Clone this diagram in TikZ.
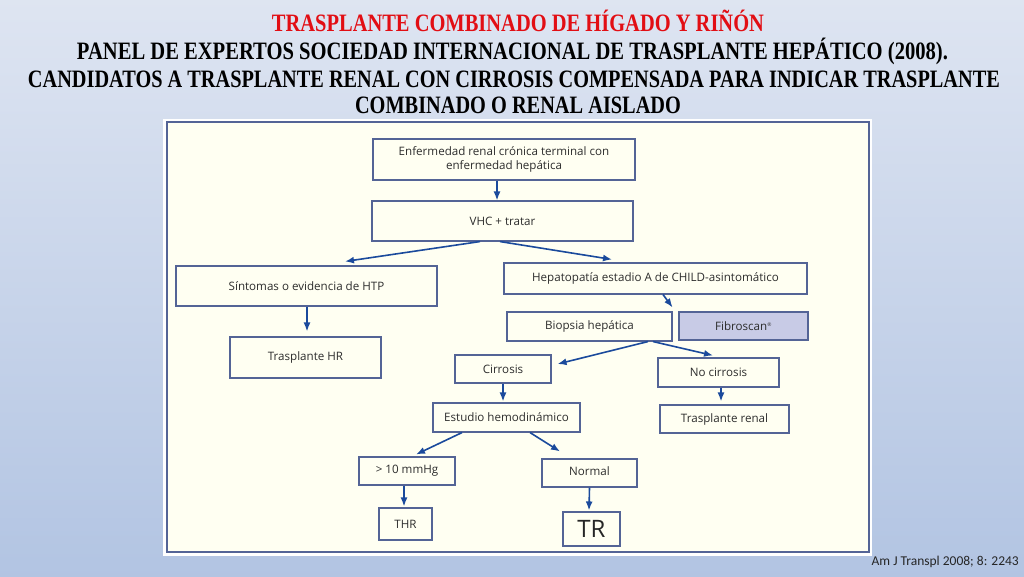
\documentclass[tikz,border=0pt]{standalone}
\usepackage{fontspec}
\setmainfont{Liberation Serif}
\newfontfamily\boxfont{Open Sans}
\newfontfamily\citefont{Carlito}
\usetikzlibrary{arrows.meta}
\definecolor{cream}{RGB}{255,255,242}
\definecolor{boxline}{RGB}{84,100,150}
\definecolor{arrowblue}{RGB}{27,74,156}
\definecolor{boxtext}{RGB}{45,45,45}
\definecolor{titlered}{RGB}{226,14,20}
\definecolor{fibrofill}{RGB}{200,203,230}
\definecolor{bgtop}{RGB}{244,245,249}
\definecolor{bgmid}{RGB}{171,191,224}
\definecolor{bgbot}{RGB}{196,210,234}
\pgfdeclareverticalshading{slidebg}{100bp}{color(0bp)=(bgbot); color(17bp)=(bgmid); color(100bp)=(bgtop)}
\def\titleline#1#2{\resizebox{#1pt}{\height}{#2}}

\begin{document}
\begin{tikzpicture}[x=1pt, y=-1pt,
	box/.style={draw=boxline, line width=1.1pt, fill=cream, text=boxtext, font=\boxfont\fontsize{11.6}{14}\selectfont, inner sep=0pt, align=center},
	arr/.style={draw=arrowblue, line width=1.6pt, -{Latex[length=9pt,width=7pt]}},
	ttl/.style={font=\bfseries\fontsize{25}{28}\selectfont, inner sep=0pt, anchor=base}]
			%%%%% START %%%%%
			\useasboundingbox (0,0) rectangle (1024,576);
			\shade[shading=slidebg] (0,0) rectangle (1024,576);
			
			\node[ttl, text=titlered] (head) at (518,31) {\titleline{492}{TRASPLANTE COMBINADO DE HÍGADO Y RIÑÓN}};
			\node[ttl] (panel) at (512.5,59) {\titleline{871}{PANEL DE EXPERTOS SOCIEDAD INTERNACIONAL DE TRASPLANTE HEPÁTICO (2008).}};
			\node[ttl] (cand) at (514,87) {\titleline{972}{CANDIDATOS A TRASPLANTE RENAL CON CIRROSIS COMPENSADA PARA INDICAR TRASPLANTE}};
			\node[ttl] (comb) at (518,113) {\titleline{326}{COMBINADO O RENAL AISLADO}};
			
			\fill[white] (163,119) rectangle (872,556);
			\draw[boxline, line width=1.2pt, fill=cream] (167,122) rectangle (869,552);
			
			\node[box, minimum width=262pt, minimum height=41pt] (erc) at (504,159.5) {Enfermedad renal crónica terminal con\\enfermedad hepática};
			\node[box, minimum width=261pt, minimum height=40pt] (vhc) at (502.5,221) {VHC + tratar};
			\node[box, minimum width=261pt, minimum height=40pt] (sint) at (306.5,286) {Síntomas o evidencia de HTP};
			\node[box, minimum width=151pt, minimum height=41pt] (thr) at (305.5,357.5) {Trasplante HR};
			\node[box, minimum width=303pt, minimum height=31pt] (hepa) at (655.5,278.5) {Hepatopatía estadio A de CHILD-asintomático};
			\node[box, minimum width=165pt, minimum height=29pt] (biop) at (589.5,326.5) {Biopsia hepática};
			\node[box, fill=fibrofill, minimum width=129pt, minimum height=28pt] (fibro) at (743.5,326) {Fibroscan\textsuperscript{\tiny ®}};
			\node[box, minimum width=96pt, minimum height=28pt] (cirr) at (503,369) {Cirrosis};
			\node[box, minimum width=121pt, minimum height=29pt] (nocirr) at (718.5,372.5) {No cirrosis};
			\node[box, minimum width=147pt, minimum height=29pt] (estud) at (506.5,417.5) {Estudio hemodinámico};
			\node[box, minimum width=129pt, minimum height=28pt] (renal) at (724.5,419) {Trasplante renal};
			\node[box, minimum width=96pt, minimum height=28pt] (mmhg) at (407,471) {> 10 mmHg};
			\node[box, minimum width=95pt, minimum height=28pt] (normal) at (589.5,473) {\raisebox{4pt}{Normal}};
			\node[box, minimum width=53pt, minimum height=32pt] (cthr) at (405.5,524) {THR};
			\node[box, font=\boxfont\fontsize{24}{26}\selectfont, text=black!85, minimum width=57pt, minimum height=34pt] (ctr) at (591.5,529) {TR};
			
			\draw[arr] ([xshift=-7pt]erc.south) -- ([xshift=-5.5pt]vhc.north);
			\draw[arr] ([xshift=-22.5pt]vhc.south) -- ([xshift=38.5pt,yshift=4pt]sint.north);
			\draw[arr] ([xshift=-2.5pt]vhc.south) -- ([xshift=-43.5pt,yshift=3pt]hepa.north);
			\draw[arr] ([xshift=0.5pt]sint.south) -- ([xshift=1.5pt,yshift=5pt]thr.north);
			\draw[arr] ([xshift=7.5pt]hepa.south) -- ([yshift=4pt]biop.north east);
			\draw[arr] ([xshift=58.5pt]biop.south) -- ([xshift=6pt,yshift=5pt]cirr.east);
			\draw[arr] ([xshift=63.5pt]biop.south) -- ([xshift=-5.5pt,yshift=2pt]nocirr.north);
			\draw[arr] (cirr.south) -- ([xshift=-3.5pt,yshift=1pt]estud.north);
			\draw[arr] ([xshift=2.5pt]nocirr.south) -- ([xshift=-3.5pt,yshift=3pt]renal.north);
			\draw[arr] ([xshift=-44.5pt]estud.south) -- ([xshift=9pt,yshift=2pt]mmhg.north);
			\draw[arr] ([xshift=23.5pt]estud.south) -- ([xshift=-29.5pt,yshift=7pt]normal.north);
			\draw[arr] ([xshift=-3pt]mmhg.south) -- ([xshift=-1.5pt,yshift=1pt]cthr.north);
			\draw[arr] (normal.south) -- ([xshift=-2.5pt,yshift=1pt]ctr.north);
			
			\node[font=\citefont\fontsize{13.5}{15}\selectfont, text=black!85, anchor=base east, inner sep=0pt] (cite) at (1019,565) {Am J Transpl 2008; 8: 2243};
			%%%%% END %%%%%
\end{tikzpicture}
\end{document}
